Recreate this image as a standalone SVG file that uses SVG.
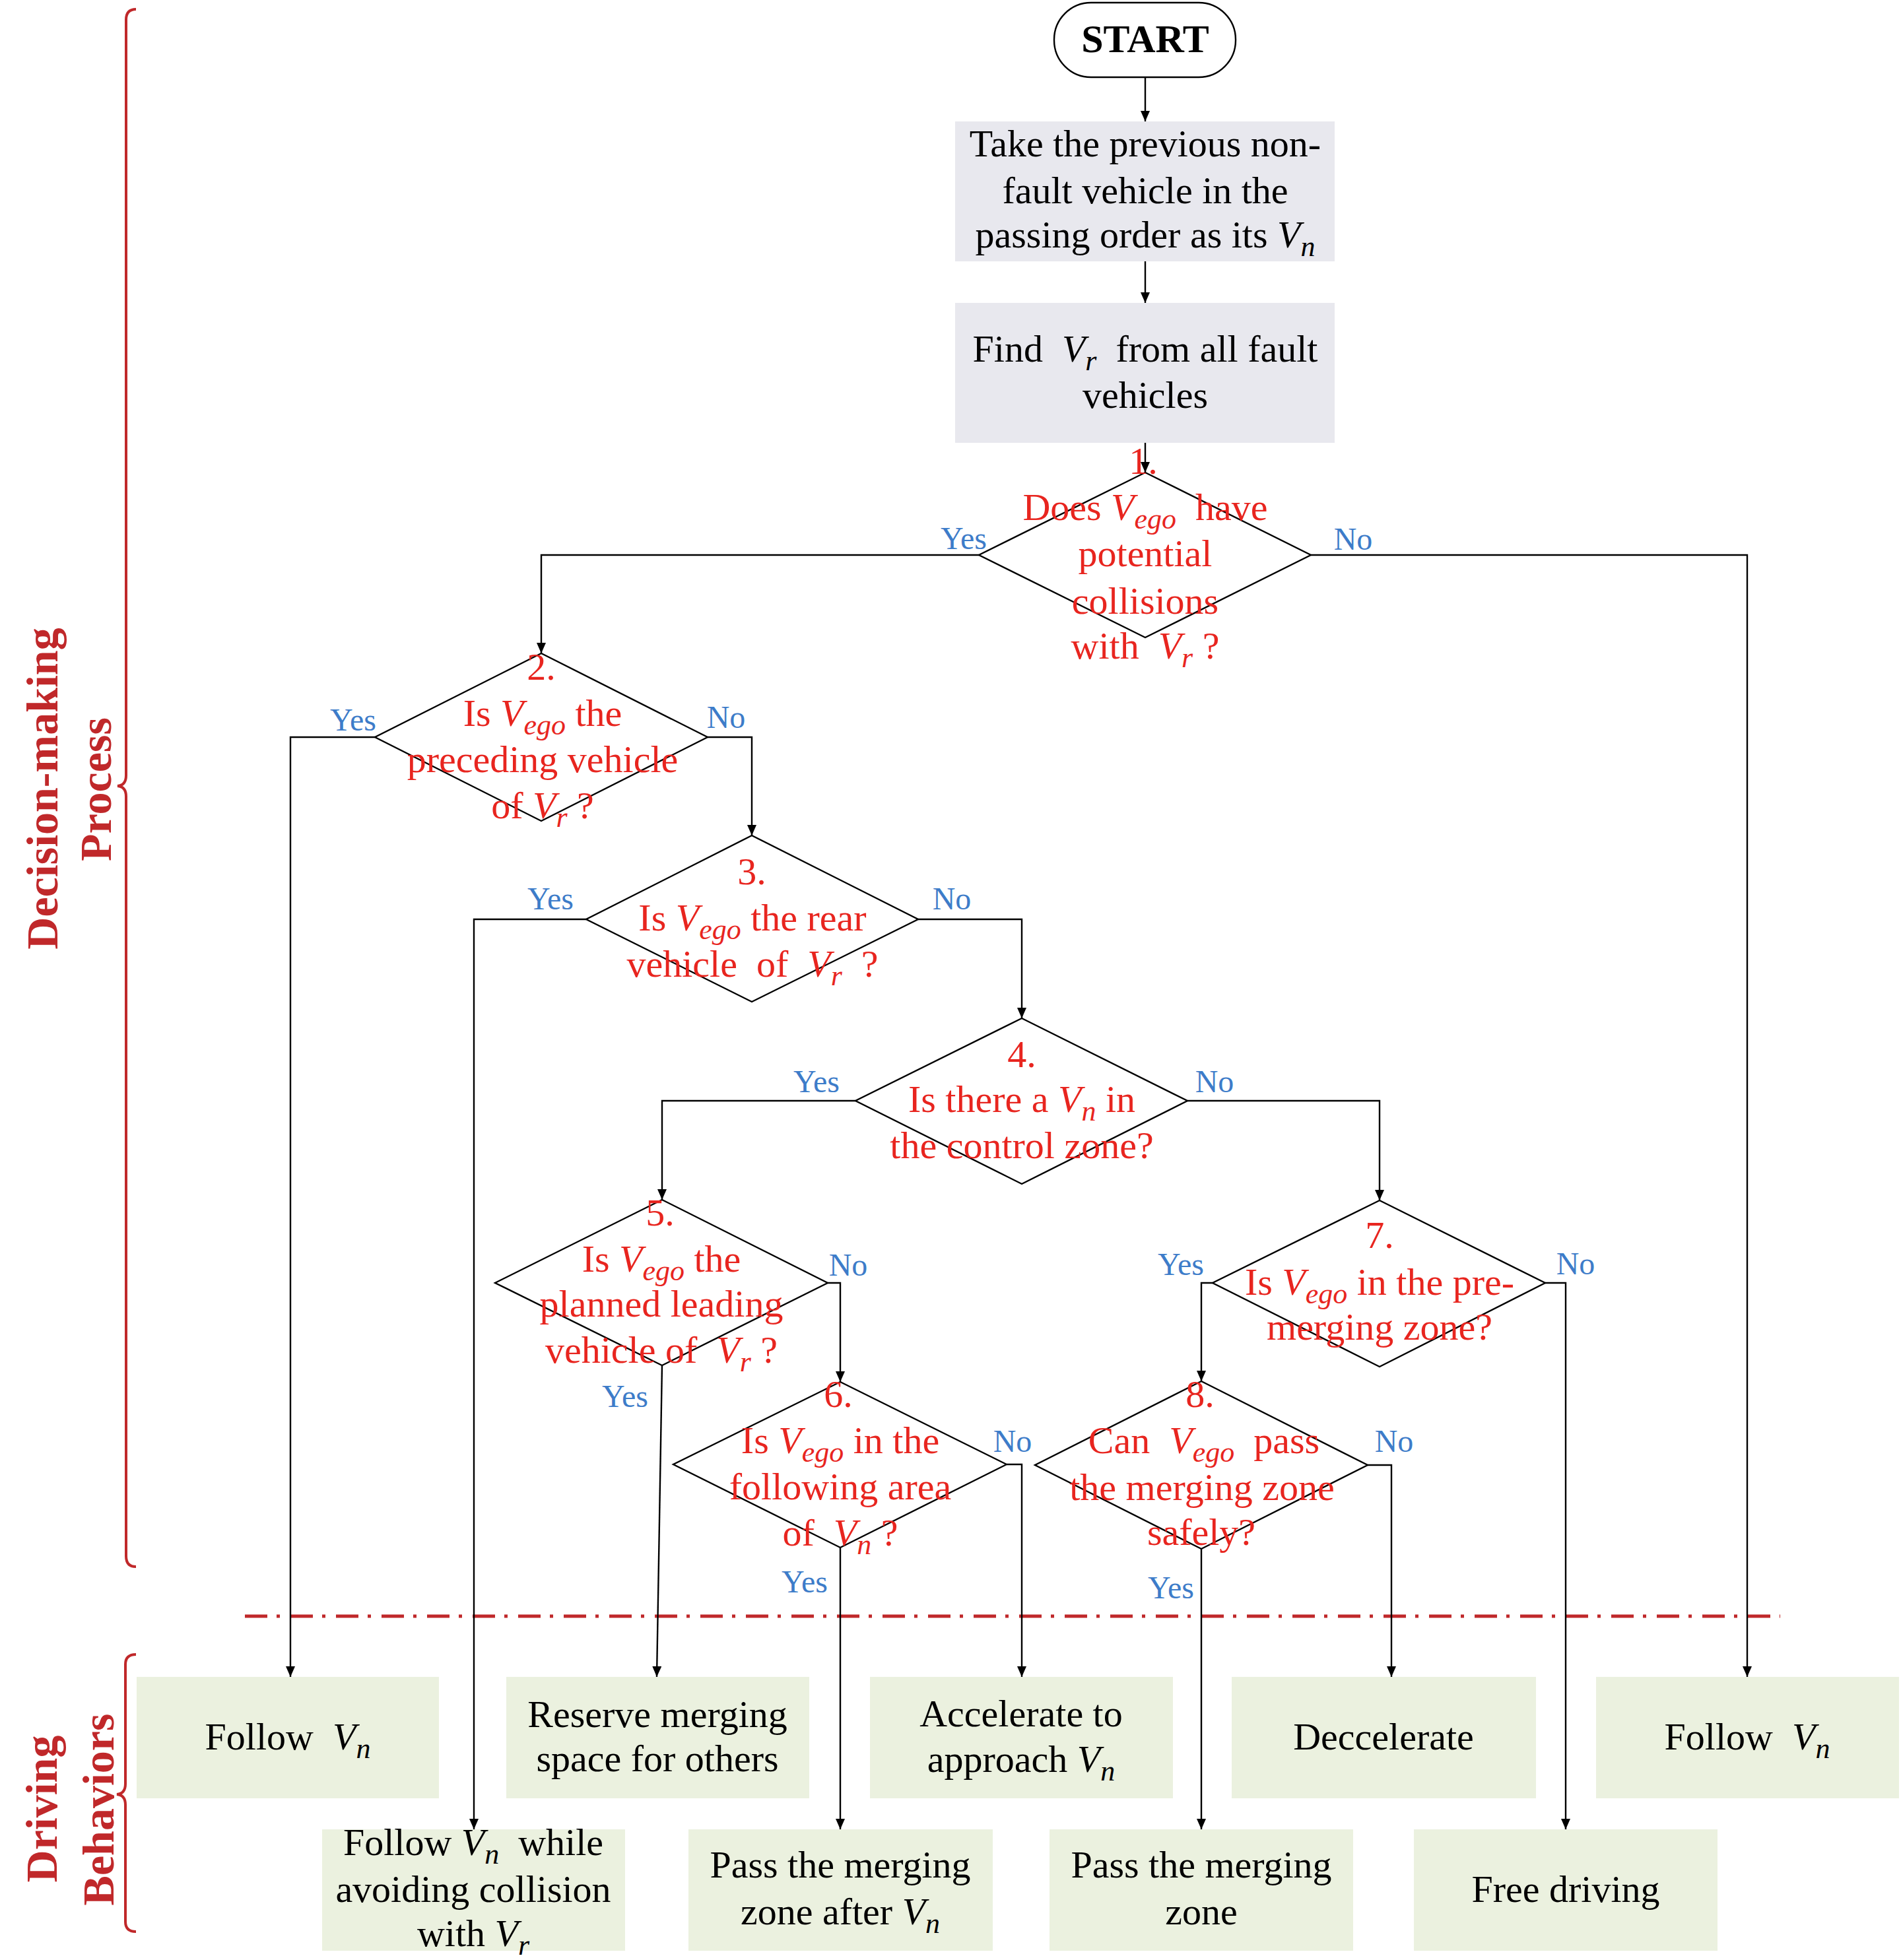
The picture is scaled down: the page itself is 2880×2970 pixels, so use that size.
<svg xmlns="http://www.w3.org/2000/svg" width="2880" height="2970" viewBox="0 0 2880 2970">
<style>
text{font-family:"Liberation Serif","Times New Roman",serif}
.q{font-size:58px;fill:#e8251f;text-anchor:middle}
.b{font-size:58px;fill:#000;text-anchor:middle}
.y{font-size:48px;fill:#3d7cc9;text-anchor:middle}
.i{font-style:italic}
.s{font-style:italic;font-size:44px}
.side{font-size:68px;font-weight:bold;fill:#c0282a;text-anchor:middle}
.dia{fill:none;stroke:#000;stroke-width:2.4}
.proc{fill:#e8e8ee}
.act{fill:#ebf1df}
.con{fill:none;stroke:#000;stroke-width:2.4}
.brace{fill:none;stroke:#c0282a;stroke-width:4}
</style>
<defs>
<marker id="ah" markerUnits="userSpaceOnUse" markerWidth="16" markerHeight="14" refX="16" refY="7" orient="auto">
<path d="M0,0 L16,7 L0,14 z" fill="#000"/>
</marker>
</defs>
<rect width="2880" height="2970" fill="#fff"/>

<g id="side-labels">
<path class="brace" d="M206,14 Q191,14 191,30 V1175 Q191,1190 178,1191 Q191,1192 191,1207 V2358 Q191,2374 206,2374"/>
<path class="brace" d="M206,2507 Q190,2507 190,2522 V2703 Q190,2718 177,2719 Q190,2720 190,2735 V2912 Q190,2927 206,2927"/>
<text class="side" transform="translate(87,1195) rotate(-90)">Decision-making</text>
<text class="side" transform="translate(168,1196) rotate(-90)">Process</text>
<text class="side" transform="translate(86,2741) rotate(-90)">Driving</text>
<text class="side" transform="translate(172,2742) rotate(-90)">Behaviors</text>
<path d="M371,2449 H2697" stroke="#c0282a" stroke-width="5" stroke-dasharray="34 14 5 16" fill="none"/>
</g>

<g id="connectors">
<path class="con" d="M1735,117 V184" marker-end="url(#ah)"/>
<path class="con" d="M1735,396 V459" marker-end="url(#ah)"/>
<path class="con" d="M1735,671 V716" marker-end="url(#ah)"/>
<path class="con" d="M1483,841 H820 V990" marker-end="url(#ah)"/>
<path class="con" d="M1986,841 H2647 V2541" marker-end="url(#ah)"/>
<path class="con" d="M568,1117 H440 V2541" marker-end="url(#ah)"/>
<path class="con" d="M1072,1117 H1139 V1266" marker-end="url(#ah)"/>
<path class="con" d="M888,1393 H718 V2772" marker-end="url(#ah)"/>
<path class="con" d="M1391,1393 H1548 V1543" marker-end="url(#ah)"/>
<path class="con" d="M1296,1668 H1003 V1818" marker-end="url(#ah)"/>
<path class="con" d="M1799,1668 H2090 V1819" marker-end="url(#ah)"/>
<path class="con" d="M1254,1944 H1273 V2094" marker-end="url(#ah)"/>
<path class="con" d="M1003,2069 L995,2541" marker-end="url(#ah)"/>
<path class="con" d="M1525,2219 H1548 V2541" marker-end="url(#ah)"/>
<path class="con" d="M1273,2345 V2772" marker-end="url(#ah)"/>
<path class="con" d="M1837,1944 H1820 V2093" marker-end="url(#ah)"/>
<path class="con" d="M2341,1944 H2372 V2772" marker-end="url(#ah)"/>
<path class="con" d="M2072,2220 H2108 V2541" marker-end="url(#ah)"/>
<path class="con" d="M1820,2347 V2772" marker-end="url(#ah)"/>
<text class="y" x="1460" y="832">Yes</text>
<text class="y" x="2050" y="833">No</text>
<text class="y" x="535" y="1107">Yes</text>
<text class="y" x="1100" y="1103">No</text>
<text class="y" x="834" y="1378">Yes</text>
<text class="y" x="1442" y="1378">No</text>
<text class="y" x="1237" y="1655">Yes</text>
<text class="y" x="1840" y="1655">No</text>
<text class="y" x="1285" y="1933">No</text>
<text class="y" x="947" y="2132">Yes</text>
<text class="y" x="1534" y="2200">No</text>
<text class="y" x="1219" y="2413">Yes</text>
<text class="y" x="1789" y="1932">Yes</text>
<text class="y" x="2387" y="1931">No</text>
<text class="y" x="2112" y="2200">No</text>
<text class="y" x="1774" y="2422">Yes</text>
</g>

<g id="start">
<rect x="1597" y="4" width="275" height="113" rx="56" fill="#fff" stroke="#000" stroke-width="2.4"/>
<text x="1735" y="79" text-anchor="middle" font-size="60" font-weight="bold">START</text>
</g>

<g id="take-vn">
<rect class="proc" x="1447" y="184" width="575" height="212"/>
<text class="b" x="1735" y="237">Take the previous non-</text>
<text class="b" x="1735" y="308">fault vehicle in the</text>
<text class="b" x="1735" y="375">passing order as its <tspan class="i">V</tspan><tspan class="s" dy="13">n</tspan></text>
</g>

<g id="find-vr">
<rect class="proc" x="1447" y="459" width="575" height="212"/>
<text class="b" x="1735" y="548">Find&#160; <tspan class="i">V</tspan><tspan class="s" dy="13">r</tspan><tspan dy="-13">&#160; from all fault</tspan></text>
<text class="b" x="1735" y="618">vehicles</text>
</g>

<g id="d1">
<polygon class="dia" points="1735,716 1986,841 1735,966 1483,841"/>
<text class="q" x="1732" y="718">1.</text>
<text class="q" x="1735" y="788">Does <tspan class="i">V</tspan><tspan class="s" dy="13">ego</tspan><tspan dy="-13">&#160; have</tspan></text>
<text class="q" x="1735" y="858">potential</text>
<text class="q" x="1735" y="930">collisions</text>
<text class="q" x="1735" y="998">with&#160; <tspan class="i">V</tspan><tspan class="s" dy="13">r</tspan><tspan dy="-13"> ?</tspan></text>
</g>

<g id="d2">
<polygon class="dia" points="820,990 1072,1117 820,1244 568,1117"/>
<text class="q" x="820" y="1030">2.</text>
<text class="q" x="822" y="1100">Is <tspan class="i">V</tspan><tspan class="s" dy="13">ego</tspan><tspan dy="-13"> the</tspan></text>
<text class="q" x="822" y="1170">preceding vehicle</text>
<text class="q" x="822" y="1240">of <tspan class="i">V</tspan><tspan class="s" dy="13">r</tspan><tspan dy="-13"> ?</tspan></text>
</g>

<g id="d3">
<polygon class="dia" points="1139,1266 1391,1393 1139,1518 888,1393"/>
<text class="q" x="1139" y="1340">3.</text>
<text class="q" x="1140" y="1410">Is <tspan class="i">V</tspan><tspan class="s" dy="13">ego</tspan><tspan dy="-13"> the rear</tspan></text>
<text class="q" x="1140" y="1480">vehicle&#160; of&#160; <tspan class="i">V</tspan><tspan class="s" dy="13">r</tspan><tspan dy="-13">&#160; ?</tspan></text>
</g>

<g id="d4">
<polygon class="dia" points="1548,1543 1799,1668 1548,1794 1296,1668"/>
<text class="q" x="1548" y="1617">4.</text>
<text class="q" x="1548" y="1685">Is there a <tspan class="i">V</tspan><tspan class="s" dy="13">n</tspan><tspan dy="-13"> in</tspan></text>
<text class="q" x="1548" y="1755">the control zone?</text>
</g>

<g id="d5">
<polygon class="dia" points="1003,1818 1254,1944 1003,2069 750,1944"/>
<text class="q" x="1000" y="1857">5.</text>
<text class="q" x="1002" y="1927">Is <tspan class="i">V</tspan><tspan class="s" dy="13">ego</tspan><tspan dy="-13"> the</tspan></text>
<text class="q" x="1002" y="1995">planned leading</text>
<text class="q" x="1002" y="2065">vehicle of&#160; <tspan class="i">V</tspan><tspan class="s" dy="13">r</tspan><tspan dy="-13"> ?</tspan></text>
</g>

<g id="d6">
<polygon class="dia" points="1273,2094 1525,2219 1273,2345 1020,2219"/>
<text class="q" x="1270" y="2132">6.</text>
<text class="q" x="1273" y="2202">Is <tspan class="i">V</tspan><tspan class="s" dy="13">ego</tspan><tspan dy="-13"> in the</tspan></text>
<text class="q" x="1273" y="2272">following area</text>
<text class="q" x="1273" y="2342">of&#160; <tspan class="i">V</tspan><tspan class="s" dy="13">n</tspan><tspan dy="-13"> ?</tspan></text>
</g>

<g id="d7">
<polygon class="dia" points="2090,1819 2341,1944 2090,2071 1837,1944"/>
<text class="q" x="2090" y="1891">7.</text>
<text class="q" x="2090" y="1962">Is <tspan class="i">V</tspan><tspan class="s" dy="13">ego</tspan><tspan dy="-13"> in the pre-</tspan></text>
<text class="q" x="2090" y="2030">merging zone?</text>
</g>

<g id="d8">
<polygon class="dia" points="1820,2093 2072,2220 1820,2347 1568,2220"/>
<text class="q" x="1818" y="2132">8.</text>
<text class="q" x="1824" y="2202">Can&#160; <tspan class="i">V</tspan><tspan class="s" dy="13">ego</tspan><tspan dy="-13">&#160; pass</tspan></text>
<text class="q" x="1821" y="2273">the merging zone</text>
<text class="q" x="1820" y="2341">safely?</text>
</g>

<g id="follow-vn-1">
<rect class="act" x="207" y="2541" width="458" height="184"/>
<text class="b" x="436" y="2651">Follow&#160; <tspan class="i">V</tspan><tspan class="s" dy="13">n</tspan></text>
</g>
<g id="reserve">
<rect class="act" x="767" y="2541" width="459" height="184"/>
<text class="b" x="996" y="2617">Reserve merging</text>
<text class="b" x="996" y="2684">space for others</text>
</g>
<g id="accelerate">
<rect class="act" x="1318" y="2541" width="459" height="184"/>
<text class="b" x="1547" y="2616">Accelerate to</text>
<text class="b" x="1547" y="2685">approach <tspan class="i">V</tspan><tspan class="s" dy="13">n</tspan></text>
</g>
<g id="deccelerate">
<rect class="act" x="1866" y="2541" width="461" height="184"/>
<text class="b" x="2096" y="2651">Deccelerate</text>
</g>
<g id="follow-vn-2">
<rect class="act" x="2418" y="2541" width="459" height="184"/>
<text class="b" x="2647" y="2651">Follow&#160; <tspan class="i">V</tspan><tspan class="s" dy="13">n</tspan></text>
</g>
<g id="follow-avoid">
<rect class="act" x="488" y="2772" width="459" height="184"/>
<text class="b" x="717" y="2811">Follow <tspan class="i">V</tspan><tspan class="s" dy="13">n</tspan><tspan dy="-13">&#160; while</tspan></text>
<text class="b" x="717" y="2882">avoiding collision</text>
<text class="b" x="717" y="2949">with <tspan class="i">V</tspan><tspan class="s" dy="13">r</tspan></text>
</g>
<g id="pass-after">
<rect class="act" x="1043" y="2772" width="461" height="184"/>
<text class="b" x="1273" y="2845">Pass the merging</text>
<text class="b" x="1273" y="2916">zone after <tspan class="i">V</tspan><tspan class="s" dy="13">n</tspan></text>
</g>
<g id="pass">
<rect class="act" x="1590" y="2772" width="460" height="184"/>
<text class="b" x="1820" y="2845">Pass the merging</text>
<text class="b" x="1820" y="2916">zone</text>
</g>
<g id="free">
<rect class="act" x="2142" y="2772" width="460" height="184"/>
<text class="b" x="2372" y="2882">Free driving</text>
</g>
</svg>
